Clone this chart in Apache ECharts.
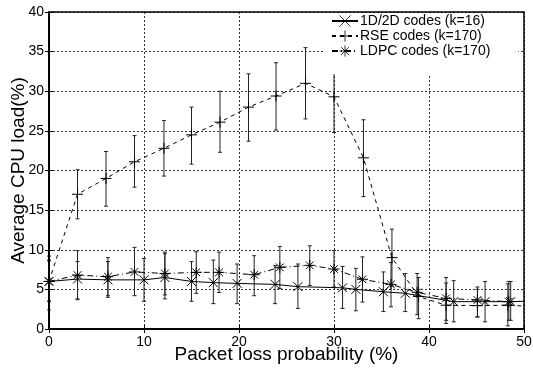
<!DOCTYPE html>
<html><head><meta charset="utf-8">
<script src="https://cdn.jsdelivr.net/npm/echarts@6/dist/echarts.min.js"></script>
<style>html,body{margin:0;padding:0;background:#fff}#c{width:533px;height:369px}</style>
</head><body><div id="c"></div>
<script>
// 1D/2D codes (k=16)
var x1 = [0, 3, 6.2, 10, 12.2, 15, 17.3, 19.8, 23.8, 26.2, 30.9, 32.3, 35.2, 37.5, 42.6, 45.9, 48.6, 50];
var y1 = [6.0, 6.3, 6.2, 6.2, 6.5, 6.0, 5.85, 5.75, 5.63, 5.34, 5.2, 5.0, 4.7, 4.5, 3.45, 3.45, 3.45, 3.5];
var lo1 = [2.4, 3.8, 4.2, 3.5, 3.8, 3.5, 3.2, 3.2, 3.2, 2.6, 2.6, 2.3, 2.2, 2.2, 0.9, 0.9, 1.1];
var hi1 = [9.2, 8.5, 8.5, 8.9, 9.5, 8.5, 8.7, 8.2, 8.0, 8.2, 7.9, 7.65, 7.2, 7.0, 6.1, 6.0, 6.0];
// RSE codes (k=170)
var x2 = [0, 3, 6, 9, 12.1, 15, 18, 21, 23.9, 27, 30, 33.1, 36.1, 38.9, 41.8, 45.1, 48.3, 50];
var y2 = [6.0, 17.0, 19.0, 21.1, 22.8, 24.5, 26.1, 28.0, 29.4, 31.0, 29.3, 21.6, 9.0, 4.1, 3.0, 2.95, 3.0, 2.9];
var lo2 = [3.5, 13.9, 15.5, 17.9, 19.3, 20.8, 22.3, 23.7, 25.1, 26.5, 24.8, 16.7, 5.4, 1.3, 0.7, 1.5, 0.4];
var hi2 = [8.6, 20.1, 22.4, 24.4, 26.3, 28.0, 30.0, 32.2, 33.6, 35.5, 33.7, 26.4, 12.6, 6.5, 5.8, 5.0, 5.7];
// LDPC codes (k=170)
var x3 = [0, 3, 6.2, 9, 12.2, 15.5, 17.9, 21.6, 24.3, 27.45, 30, 33, 36, 38.75, 41.8, 45.1, 48.4, 50];
var y3 = [6.0, 6.8, 6.6, 7.2, 7.0, 7.15, 7.15, 6.85, 7.78, 8.03, 7.57, 6.27, 5.63, 4.63, 3.87, 3.66, 3.45, 3.5];
var lo3 = [3.5, 3.7, 4.0, 4.2, 4.3, 4.5, 4.6, 4.2, 5.1, 5.5, 5.3, 3.4, 2.8, 1.8, 1.1, 1.55, 1.1];
var hi3 = [8.7, 9.9, 9.0, 10.3, 9.7, 9.75, 9.7, 9.25, 10.4, 10.5, 9.9, 9.1, 8.4, 7.0, 6.5, 5.3, 6.0];

var names = ['1D/2D codes (k=16)', 'RSE codes (k=170)', 'LDPC codes (k=170)'];
var FONT = 'Liberation Sans, Arial, sans-serif';

function pts(xs, ys, nMarked) {
  return xs.map(function (x, i) {
    var d = { value: [x, ys[i]] };
    if (i >= nMarked) d.symbol = 'none';
    return d;
  });
}
function errData(xs, lo, hi) {
  return lo.map(function (l, i) { return [xs[i], l, hi[i]]; });
}
function errRender(params, api) {
  var x = api.value(0);
  var a = api.coord([x, api.value(1)]);
  var b = api.coord([x, api.value(2)]);
  var st = { stroke: '#222', lineWidth: 1 };
  return { type: 'group', children: [
    { type: 'line', shape: { x1: a[0], y1: a[1], x2: b[0], y2: b[1] }, style: st },
    { type: 'line', shape: { x1: a[0] - 2, y1: a[1], x2: a[0] + 2, y2: a[1] }, style: st },
    { type: 'line', shape: { x1: b[0] - 2, y1: b[1], x2: b[0] + 2, y2: b[1] }, style: st }
  ] };
}

var symX = 'path://M0,0L10,10M10,0L0,10';
var symP = 'path://M5,0L5,10M0,5L10,5';
var symA = 'path://M5,0L5,10M0,5L10,5M1.5,1.5L8.5,8.5M8.5,1.5L1.5,8.5';

function lineSeries(name, data, sym, size, dash) {
  return {
    name: name, type: 'line', data: data, symbol: sym, symbolSize: size,
    showAllSymbol: true, clip: true, z: 3,
    lineStyle: { color: '#000', width: 1, type: dash },
    itemStyle: { color: '#000', borderColor: '#000', borderWidth: 1 },
    emphasis: { disabled: true }, animation: false
  };
}
function errSeries(xs, lo, hi) {
  return { type: 'custom', renderItem: errRender, data: errData(xs, lo, hi),
    encode: { x: 0, y: [1, 2] }, z: 2, animation: false, silent: true };
}

var chart = echarts.init(document.getElementById('c'), null, { renderer: 'canvas' });
chart.setOption({
  animation: false,
  backgroundColor: '#fff',
  textStyle: { fontFamily: FONT },
  grid: { left: 49, right: 9, top: 12, bottom: 40, containLabel: false, outerBoundsMode: 'none',
    show: true, borderColor: '#000', borderWidth: 1.5, backgroundColor: 'transparent', z: 10 },
  legend: {
    data: names, orient: 'vertical', left: 323, top: 13,
    backgroundColor: '#fff', padding: [1, 28, 16, 8], itemGap: 1,
    itemWidth: 26, itemHeight: 14,
    itemStyle: { borderWidth: 0.8 },
    textStyle: { fontFamily: FONT, fontSize: 14, color: '#000', padding: [0, 0, 0, -3] },
    selectedMode: false
  },
  xAxis: [{
    type: 'value', min: 0, max: 50, interval: 10,
    name: 'Packet loss probability (%)', nameLocation: 'middle', nameGap: 16, nameMoveOverlap: false,
    nameTextStyle: { fontFamily: FONT, fontSize: 19, color: '#000' },
    axisLine: { show: true, lineStyle: { color: '#000', width: 1.5 } },
    axisTick: { show: true, inside: true, length: 4, lineStyle: { color: '#000' } },
    axisLabel: { fontFamily: FONT, fontSize: 14, color: '#000', margin: 6 },
    splitLine: { show: true, lineStyle: { color: '#333', width: 1, type: [2, 2] } }
  }, {
    type: 'value', min: 0, max: 50, interval: 10, position: 'top',
    axisLine: { show: true, lineStyle: { color: '#000', width: 1.5 } }, axisLabel: { show: false }, splitLine: { show: false },
    axisTick: { show: true, inside: true, length: 4, lineStyle: { color: '#000' } }, z: 10
  }],
  yAxis: [{
    type: 'value', min: 0, max: 40, interval: 5,
    name: 'Average CPU load(%)', nameLocation: 'middle', nameGap: 21, nameRotate: 90, nameMoveOverlap: false,
    nameTextStyle: { fontFamily: FONT, fontSize: 19, color: '#000' },
    axisLine: { show: true, lineStyle: { color: '#000', width: 1.5 } },
    axisTick: { show: true, inside: true, length: 4, lineStyle: { color: '#000' } },
    axisLabel: { fontFamily: FONT, fontSize: 14, color: '#000', margin: 5 },
    splitLine: { show: true, lineStyle: { color: '#333', width: 1, type: [2, 2] } }
  }, {
    type: 'value', min: 0, max: 40, interval: 5, position: 'right',
    axisLine: { show: true, lineStyle: { color: '#000', width: 1.5 } }, axisLabel: { show: false }, splitLine: { show: false },
    axisTick: { show: true, inside: true, length: 4, lineStyle: { color: '#000' } }, z: 10
  }],
  series: [
    errSeries(x1, lo1, hi1),
    errSeries(x2, lo2, hi2),
    errSeries(x3, lo3, hi3),
    lineSeries(names[0], pts(x1, y1, lo1.length), symX, 9, 'solid'),
    lineSeries(names[1], pts(x2, y2, lo2.length), symP, 11, [4, 4]),
    lineSeries(names[2], pts(x3, y3, lo3.length), symA, 11, [6, 3, 1, 3])
  ]
});
</script></body></html>
